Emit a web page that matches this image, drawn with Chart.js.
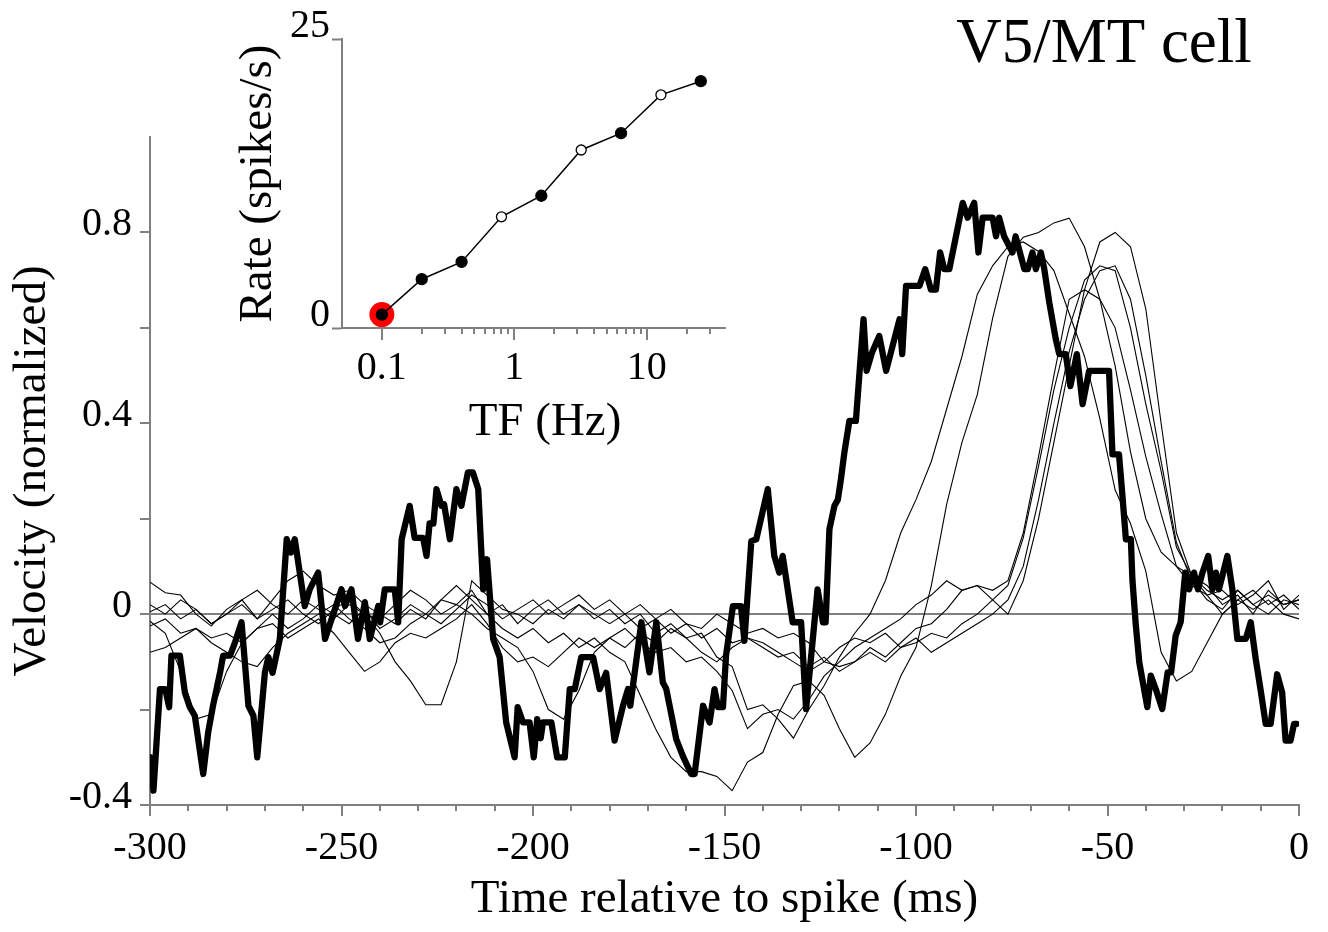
<!DOCTYPE html>
<html>
<head>
<meta charset="utf-8">
<script src="https://cdn.jsdelivr.net/npm/chart.js@4.4.1/dist/chart.umd.min.js"></script>
<style>
html,body{margin:0;padding:0;background:#fff;}
#wrap{position:relative;width:1328px;height:932px;overflow:hidden;}
#main{position:absolute;left:0;top:0;}
#inset{position:absolute;left:200px;top:0;}
</style>
</head>
<body>
<div id="wrap">
<canvas id="main" width="1328" height="932"></canvas>
<canvas id="inset" width="560" height="470"></canvas>
</div>
<script>
// ---------------- DATA ----------------
// Main panel: thick trace (0.1 Hz condition), time (ms) and velocity
const thickTime = [
 -300,-299.1,-297.4,-296,-295,-294.4,-292.2,-290.9,-289.6,-288.3,
 -286.1,-284.8,-283.5,-281.7,-280.9,-279.1,-277.8,-276.1,-274.3,-273,
 -272,-270,-269.1,-268,-266.1,-264.3,-263.2,-262.2,-259.6,-258.3,
 -256.1,-254.3,-250,-249.1,-247.4,-245.7,-243.9,-242.6,-240.4,-239.9,
 -238.7,-236.1,-235.2,-234.3,-232.2,-230.9,-228.7,-227.8,-227.0,-226.0,
 -225.2,-223.9,-223.2,-221.7,-220,-218.7,-217,-215.7,-214.3,-213,
 -212,-210.4,-208.7,-207,-204.8,-204,-202.6,-200.9,-199.8,-198.9,
 -198,-197.4,-195.2,-193.7,-191.7,-190.4,-189.1,-187.4,-184.3,-182.6,
 -180.9,-178.7,-176.5,-175.2,-174.6,-171.7,-169.6,-167.8,-166.1,-165.2,
 -162.6,-160.9,-158.7,-157.8,-155.6,-153.9,-152.6,-151.7,-150.4,-149.6,
 -147.8,-145.7,-144.8,-143,-141.7,-138.7,-137,-135.7,-134.8,-132.2,
 -130,-128.7,-125.7,-124.3,-123.6,-122.6,-121.3,-120.4,-119.6,-118.7,
 -117.4,-115.7,-113.7,-112.9,-111.5,-109.6,-107.8,-104.3,-103.6,-102.6,
 -99.1,-97.6,-96.1,-94.8,-93.7,-92.6,-91.3,-87.8,-86.5,-84.8,
 -83.7,-82.6,-80,-79.1,-78.3,-77,-74.8,-74,-71.7,-70.8,
 -69.6,-68.7,-67.4,-66.5,-65.2,-63.5,-62.6,-60.9,-59.7,-58,
 -56.5,-54.8,-49.6,-48.7,-47,-46.1,-45.2,-43.9,-43.5,-42.6,
 -41.7,-39.6,-38.7,-37.4,-35.7,-34.3,-33.4,-32.2,-30.9,-29.7,
 -28.7,-27.4,-26.4,-25.2,-23.7,-22.6,-21.7,-20.9,-18.7,-17.4,
 -16.1,-13.9,-12.6,-11.3,-10,-8.7,-7.4,-5.7,-4.4,-3.5,
 -2.2,-1.3,-0.6
];
const thickVel = [
 -0.30,-0.37,-0.157,-0.157,-0.195,-0.087,-0.087,-0.164,-0.195,-0.213,
 -0.335,-0.247,-0.19,-0.122,-0.087,-0.087,-0.059,-0.017,-0.192,-0.213,
 -0.30,-0.122,-0.09,-0.123,-0.052,0.157,0.129,0.157,0.017,0.052,
 0.087,-0.052,0.052,0.017,0.052,-0.052,0.025,-0.052,0.017,-0.017,
 0.052,0.052,-0.017,0.157,0.227,0.16,0.16,0.122,0.19,0.19,
 0.262,0.227,0.23,0.157,0.262,0.227,0.297,0.297,0.262,0.052,
 0.115,-0.052,-0.09,-0.227,-0.30,-0.195,-0.227,-0.227,-0.30,-0.22,
 -0.26,-0.227,-0.227,-0.30,-0.30,-0.157,-0.157,-0.09,-0.09,-0.157,
 -0.123,-0.265,-0.192,-0.157,-0.192,-0.017,-0.122,-0.017,-0.143,-0.157,
 -0.262,-0.297,-0.335,-0.335,-0.192,-0.227,-0.157,-0.195,-0.195,-0.087,
 0.017,0.017,-0.056,0.153,0.157,0.262,0.122,0.087,0.122,-0.017,
 -0.017,-0.199,0.052,-0.017,-0.017,0.178,0.227,0.24,0.283,0.339,
 0.405,0.405,0.618,0.51,0.548,0.583,0.51,0.618,0.545,0.688,
 0.688,0.723,0.68,0.68,0.758,0.723,0.723,0.862,0.831,0.862,
 0.758,0.831,0.831,0.792,0.831,0.792,0.758,0.792,0.723,0.723,
 0.758,0.723,0.758,0.723,0.653,0.576,0.545,0.545,0.478,0.545,
 0.44,0.51,0.51,0.335,0.335,0.248,0.157,0.157,0.073,-0.024,
 -0.101,-0.195,-0.129,-0.157,-0.199,-0.122,-0.122,-0.045,-0.017,0.087,
 0.052,0.087,0.052,0.087,0.122,0.052,0.087,0.052,0.122,0.052,
 -0.052,-0.052,-0.017,-0.094,-0.16,-0.23,-0.23,-0.126,-0.164,-0.265,
 -0.265,-0.23,-0.23
];

// Thin traces (other temporal frequencies), sampled every 4 ms
const thinTime = [
 -300,-296,-292,-288,-284,-280,-276,-272,-268,-264,
 -260,-256,-252,-248,-244,-240,-236,-232,-228,-224,
 -220,-216,-212,-208,-204,-200,-196,-192,-188,-184,
 -180,-176,-172,-168,-164,-160,-156,-152,-148,-144,
 -140,-136,-132,-128,-124,-120,-116,-112,-108,-104,
 -100,-96,-92,-88,-84,-80,-76,-72,-68,-64,
 -60,-56,-52,-48,-44,-40,-36,-32,-28,-24,
 -20,-16,-12,-8,-4,0
];
const thin1 = [
 0.067,0.045,0.04,0.0,-0.025,0.01,0.03,-0.01,0.03,0.07,
 0.09,0.06,0.04,0.05,0.02,0.0,-0.02,0.01,-0.01,0.03,
 0.06,0.03,0.0,0.02,-0.02,0.01,0.03,0.0,0.02,-0.01,
 0.01,-0.02,0.0,-0.04,-0.02,-0.05,-0.04,-0.09,-0.11,-0.2,
 -0.19,-0.22,-0.26,-0.2,-0.15,-0.09,-0.04,0.0,0.07,0.17,
 0.24,0.32,0.43,0.54,0.67,0.73,0.77,0.78,0.76,0.72,
 0.63,0.54,0.41,0.26,0.19,0.09,-0.08,-0.14,-0.12,-0.06,
 0.0,0.03,0.05,0.02,0.04,0.01
];
const thin2 = [
 0.005,0.02,-0.01,0.01,-0.02,0.0,0.02,-0.01,0.01,0.03,
 0.0,-0.02,0.01,0.03,0.0,-0.01,0.02,0.05,0.03,0.0,
 0.02,0.05,0.0,-0.03,-0.05,-0.03,-0.06,-0.04,-0.07,-0.05,
 -0.08,-0.1,-0.17,-0.24,-0.3,-0.33,-0.33,-0.34,-0.37,-0.31,
 -0.29,-0.21,-0.15,-0.14,-0.17,-0.24,-0.3,-0.27,-0.21,-0.13,
 -0.07,0.06,0.23,0.36,0.46,0.62,0.75,0.79,0.8,0.82,
 0.83,0.77,0.66,0.52,0.34,0.2,0.13,0.1,0.08,0.05,
 0.03,0.05,0.02,0.04,0.02,0.03
];
const thin3 = [
 -0.015,-0.04,-0.12,-0.22,-0.21,-0.12,-0.06,-0.03,0.0,-0.03,
 -0.01,0.02,0.0,-0.02,0.01,-0.03,-0.01,0.02,0.0,-0.02,
 0.01,0.04,0.02,-0.01,0.01,0.03,0.0,0.02,0.04,0.01,
 0.03,0.0,0.02,-0.01,0.01,-0.02,-0.03,0.0,-0.02,-0.04,
 -0.03,-0.05,-0.04,-0.06,-0.1,-0.11,-0.1,-0.07,-0.09,-0.06,
 -0.03,-0.02,0.01,0.05,0.06,0.05,0.07,0.17,0.33,0.5,
 0.66,0.68,0.66,0.6,0.47,0.33,0.21,0.1,0.06,0.04,
 0.0,0.03,0.01,0.03,0.0,-0.01
];
const thin4 = [
 -0.025,-0.01,-0.04,-0.03,-0.06,-0.08,-0.1,-0.11,-0.07,-0.04,
 -0.02,0.0,0.02,-0.01,-0.03,-0.06,-0.05,-0.02,0.0,0.03,
 0.02,0.0,-0.03,-0.05,-0.07,-0.12,-0.2,-0.22,-0.16,-0.08,
 -0.05,-0.07,-0.04,-0.06,-0.03,-0.05,-0.08,-0.1,-0.07,-0.05,
 -0.06,-0.08,-0.1,-0.12,-0.1,-0.07,-0.05,-0.06,-0.04,-0.07,
 -0.05,-0.08,-0.06,-0.04,-0.02,0.0,0.03,0.1,0.24,0.4,
 0.55,0.66,0.72,0.73,0.66,0.5,0.32,0.15,0.07,0.03,
 0.01,0.05,0.02,0.0,0.03,0.02
];
const thin5 = [
 -0.08,-0.07,-0.05,-0.03,-0.05,-0.04,-0.06,-0.03,-0.02,-0.05,
 -0.03,-0.01,-0.04,-0.08,-0.12,-0.1,-0.06,-0.04,-0.05,-0.03,
 -0.01,0.02,-0.02,-0.07,-0.1,-0.09,-0.11,-0.08,-0.05,-0.07,
 -0.05,-0.03,-0.06,-0.08,-0.07,-0.1,-0.09,-0.12,-0.16,-0.24,
 -0.21,-0.2,-0.22,-0.18,-0.13,-0.1,-0.07,-0.05,-0.03,-0.01,
 0.02,0.04,0.07,0.05,0.06,0.03,0.0,0.07,0.2,0.36,
 0.52,0.68,0.78,0.8,0.77,0.64,0.4,0.17,0.08,0.04,
 0.05,0.02,0.04,0.07,0.01,0.04
];
const thin6 = [
 0.02,0.0,0.03,0.01,-0.02,0.0,0.03,0.05,0.02,0.0,
 0.03,0.01,-0.01,0.02,0.0,-0.04,-0.1,-0.14,-0.19,-0.19,
 -0.1,0.07,0.04,0.01,0.0,-0.02,0.01,-0.01,0.02,0.0,
 -0.02,0.0,-0.03,-0.01,-0.04,-0.02,-0.05,-0.03,-0.06,-0.05,
 -0.07,-0.09,-0.08,-0.11,-0.09,-0.12,-0.1,-0.08,-0.1,-0.07,
 -0.06,-0.04,-0.05,-0.02,0.0,0.03,0.06,0.16,0.31,0.47,
 0.6,0.7,0.73,0.72,0.6,0.44,0.3,0.14,0.08,0.06,
 0.02,0.04,0.0,0.05,0.02,0.03
];
const thinTraces = [thin1, thin2, thin3, thin4, thin5, thin6];

// Main axes ticks
const mainXTicks = [-300,-250,-200,-150,-100,-50,0];
const mainXTickLabels = ['-300','-250','-200','-150','-100','-50','0'];
const mainXMinorTicks = [-290,-280,-270,-260,-240,-230,-220,-210,-190,-180,-170,-160,-140,-130,-120,-110,-90,-80,-70,-60,-40,-30,-20,-10];
const mainYTicks = [-0.4,-0.2,0,0.2,0.4,0.6,0.8];
const mainYTickLabels = ['-0.4','','0','','0.4','','0.8'];

// Inset: tuning curve
const insetTF = [0.1,0.2,0.4,0.8,1.6,3.2,6.4,12.8,25.6];
const insetRate = [1.16,4.22,5.72,9.62,11.44,15.4,16.85,20.17,21.35];
const insetFilled = [true,true,true,false,true,false,true,false,true];
const insetXTicks = [0.1,1,10];
const insetXTickLabels = ['0.1','1','10'];
const insetXMinorTicks = [0.2,0.3,0.4,0.5,0.6,0.7,0.8,0.9,2,3,4,5,6,7,8,9,20,30];
const insetYTicks = [0,25];
const insetYTickLabels = ['0','25'];

// ---------------- STYLE ----------------
const FONT = "'Liberation Serif','Times New Roman',serif";
const GRAY = '#808080';

const xTickPlugin = {
  id: 'xTickMarks',
  afterDraw(chart, args, opts) {
    const sc = chart.scales.x, ctx = chart.ctx;
    ctx.save();
    ctx.strokeStyle = GRAY;
    ctx.lineWidth = 2;
    const draw = (v, len) => {
      const px = Math.round(sc.getPixelForValue(v));
      ctx.beginPath(); ctx.moveTo(px, sc.top); ctx.lineTo(px, sc.top + len); ctx.stroke();
    };
    opts.minor.forEach(v => draw(v, opts.minorLen));
    opts.major.forEach(v => draw(v, opts.majorLen));
    ctx.restore();
  }
};
const textPlugin = {
  id: 'extraText',
  afterDraw(chart, args, opts) {
    const ctx = chart.ctx;
    (opts.items || []).forEach(it => {
      ctx.save();
      ctx.font = it.size + 'px ' + FONT;
      ctx.fillStyle = '#000';
      ctx.textAlign = 'center';
      ctx.textBaseline = 'alphabetic';
      ctx.fillText(it.text, chart.chartArea.left + it.dx, it.y);
      ctx.restore();
    });
  }
};

// ---------------- MAIN CHART ----------------
const mainDatasets = [{
  label: '0.1 Hz',
  data: thickTime.map((t, i) => ({x: t, y: thickVel[i]})),
  borderColor: '#000', borderWidth: 6.3, borderJoinStyle: 'round', borderCapStyle: 'round',
  pointRadius: 0, tension: 0, order: 0
}].concat(thinTraces.map((vals, k) => ({
  label: 'trace ' + (k + 2),
  data: thinTime.map((t, i) => ({x: t, y: vals[i]})),
  borderColor: '#000', borderWidth: 1.1, pointRadius: 0, tension: 0, order: 1
})));

new Chart(document.getElementById('main'), {
  type: 'line',
  data: {datasets: mainDatasets},
  plugins: [xTickPlugin, textPlugin],
  options: {
    responsive: false, animation: false, devicePixelRatio: 1,
    layout: {padding: {top: 137, right: 28, left: 0, bottom: 0}},
    plugins: {
      legend: {display: false}, tooltip: {enabled: false},
      xTickMarks: {minor: mainXMinorTicks, major: mainXTicks, minorLen: 6, majorLen: 11},
      extraText: {items: [{text: 'V5/MT cell', size: 63, dx: 954, y: 62}]}
    },
    scales: {
      x: {
        type: 'linear', min: -300, max: 0,
        afterFit(s) { s.height = 127; },
        afterBuildTicks(s) { s.ticks = mainXTicks.map(v => ({value: v})); },
        grid: {display: false, drawTicks: false},
        border: {display: true, color: GRAY, width: 2},
        ticks: {autoSkip: false, maxRotation: 0, padding: 19, color: '#000',
          font: {family: FONT, size: 40}, callback: (v, i) => mainXTickLabels[i]},
        title: {display: true, text: 'Time relative to spike (ms)', color: '#000',
          font: {family: FONT, size: 47}, padding: {top: 0, bottom: 4}}
      },
      y: {
        type: 'linear', min: -0.4, max: 1.0,
        afterFit(s) { s.width = 150; },
        afterBuildTicks(s) { s.ticks = mainYTicks.map(v => ({value: v})); },
        grid: {display: true, drawOnChartArea: true, drawTicks: true, tickLength: 10,
          tickColor: GRAY, tickWidth: 2, lineWidth: 2,
          color: c => (c.tick && Math.abs(c.tick.value) < 1e-9) ? GRAY : 'rgba(0,0,0,0)'},
        border: {display: true, color: GRAY, width: 2},
        ticks: {autoSkip: false, padding: 8, labelOffset: -8, color: '#000',
          font: {family: FONT, size: 40}, callback: (v, i) => mainYTickLabels[i]},
        title: {display: true, text: 'Velocity (normalized)', color: '#000',
          font: {family: FONT, size: 47}, padding: {top: 4, bottom: 0}}
      }
    }
  }
});

// ---------------- INSET CHART ----------------
new Chart(document.getElementById('inset'), {
  type: 'line',
  data: {datasets: [
    {
      label: 'tuning',
      data: insetTF.map((f, i) => ({x: f, y: insetRate[i]})),
      borderColor: '#000', borderWidth: 1.5, tension: 0,
      pointRadius: insetFilled.map(f => f ? 5.5 : 5),
      pointBackgroundColor: insetFilled.map(f => f ? '#000' : '#fff'),
      pointBorderColor: '#000', pointBorderWidth: 1.3, order: 0
    },
    {
      label: 'selected',
      data: [{x: insetTF[0], y: insetRate[0]}],
      showLine: false, pointRadius: 12.5, pointBackgroundColor: '#ff0000',
      pointBorderColor: '#ff0000', pointBorderWidth: 0, order: 1
    }
  ]},
  plugins: [xTickPlugin, textPlugin],
  options: {
    responsive: false, animation: false, devicePixelRatio: 1,
    layout: {padding: {top: 39, right: 35, left: 0, bottom: 0}},
    plugins: {
      legend: {display: false}, tooltip: {enabled: false},
      xTickMarks: {minor: insetXMinorTicks, major: insetXTicks, minorLen: 6, majorLen: 12},
      extraText: {items: [{text: 'TF (Hz)', size: 47, dx: 203, y: 435}]}
    },
    scales: {
      x: {
        type: 'logarithmic', min: 0.05, max: 39,
        afterFit(s) { s.height = 142; },
        afterBuildTicks(s) { s.ticks = insetXTicks.map(v => ({value: v})); },
        grid: {display: false, drawTicks: false},
        border: {display: true, color: GRAY, width: 2},
        ticks: {autoSkip: false, maxRotation: 0, padding: 16, color: '#000',
          font: {family: FONT, size: 40}, callback: (v, i) => insetXTickLabels[i]},
        title: {display: false}
      },
      y: {
        type: 'linear', min: 0, max: 25,
        afterFit(s) { s.width = 142; },
        afterBuildTicks(s) { s.ticks = insetYTicks.map(v => ({value: v})); },
        grid: {display: true, drawOnChartArea: false, drawTicks: true, tickLength: 10,
          tickColor: GRAY, tickWidth: 2},
        border: {display: true, color: GRAY, width: 2},
        ticks: {autoSkip: false, padding: 2, labelOffset: -13, color: '#000',
          font: {family: FONT, size: 40}, callback: (v, i) => insetYTickLabels[i]},
        title: {display: true, text: 'Rate (spikes/s)', color: '#000',
          font: {family: FONT, size: 47}, padding: {top: 30, bottom: 0}}
      }
    }
  }
});
</script>
</body>
</html>
